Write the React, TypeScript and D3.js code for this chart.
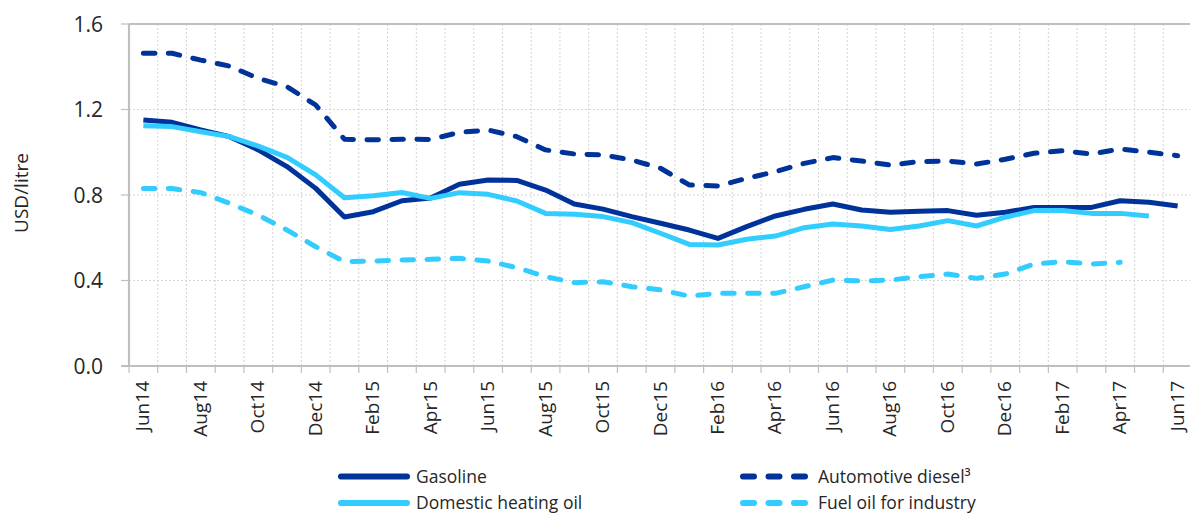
import React from 'react';
import * as d3 from 'd3';

const months = [
  'Jun14', 'Jul14', 'Aug14', 'Sep14', 'Oct14', 'Nov14', 'Dec14',
  'Jan15', 'Feb15', 'Mar15', 'Apr15', 'May15', 'Jun15', 'Jul15', 'Aug15', 'Sep15', 'Oct15', 'Nov15', 'Dec15',
  'Jan16', 'Feb16', 'Mar16', 'Apr16', 'May16', 'Jun16', 'Jul16', 'Aug16', 'Sep16', 'Oct16', 'Nov16', 'Dec16',
  'Jan17', 'Feb17', 'Mar17', 'Apr17', 'May17', 'Jun17',
];

// only every second month gets a label
const tickLabels = [
  'Jun14', 'Aug14', 'Oct14', 'Dec14', 'Feb15', 'Apr15', 'Jun15', 'Aug15', 'Oct15', 'Dec15',
  'Feb16', 'Apr16', 'Jun16', 'Aug16', 'Oct16', 'Dec16', 'Feb17', 'Apr17', 'Jun17',
];

const yTicks = [0, 0.4, 0.8, 1.2, 1.6];

const gasoline = [
  1.151, 1.14, 1.104, 1.073, 1.011, 0.933, 0.831,
  0.697, 0.722, 0.773, 0.786, 0.85, 0.87, 0.868, 0.823, 0.758, 0.734, 0.699, 0.668,
  0.636, 0.597, 0.652, 0.702, 0.733, 0.758, 0.73, 0.719, 0.724, 0.727, 0.705, 0.719,
  0.742, 0.742, 0.742, 0.773, 0.766, 0.749,
];

const diesel = [
  1.463, 1.463, 1.431, 1.403, 1.345, 1.307, 1.221,
  1.061, 1.058, 1.061, 1.06, 1.093, 1.104, 1.073, 1.011, 0.992, 0.987, 0.964, 0.925,
  0.847, 0.842, 0.878, 0.909, 0.948, 0.975, 0.959, 0.94, 0.956, 0.959, 0.945, 0.967,
  0.995, 1.007, 0.992, 1.015, 1.0, 0.984,
];

const heatingOil = [
  1.124, 1.12, 1.096, 1.073, 1.029, 0.976, 0.894,
  0.787, 0.797, 0.812, 0.784, 0.811, 0.803, 0.772, 0.714, 0.71, 0.699, 0.671, 0.621,
  0.569, 0.566, 0.593, 0.608, 0.647, 0.664, 0.655, 0.639, 0.655, 0.68, 0.655, 0.696,
  0.727, 0.727, 0.714, 0.714, 0.702,
];

const fuelOil = [
  0.83, 0.83, 0.811, 0.761, 0.706, 0.636, 0.558,
  0.488, 0.491, 0.496, 0.499, 0.504, 0.491, 0.46, 0.418, 0.39, 0.394, 0.371, 0.356,
  0.327, 0.34, 0.34, 0.34, 0.371, 0.402, 0.398, 0.402, 0.418, 0.43, 0.41, 0.43,
  0.477, 0.488, 0.477, 0.485,
];

const DARK = '#003399';
const LIGHT = '#33ccff';
const DASH = '11.5 13.5';

const series = [
  { name: 'Gasoline', values: gasoline, color: DARK, dash: null as string | null },
  { name: 'Automotive diesel³', values: diesel, color: DARK, dash: DASH },
  { name: 'Domestic heating oil', values: heatingOil, color: LIGHT, dash: null },
  { name: 'Fuel oil for industry', values: fuelOil, color: LIGHT, dash: DASH },
];

const W = 1190;
const H = 516;
const left = 129;
const right = 1192;
const top = 24;
const bottom = 366;
const font = '"Open Sans", "DejaVu Sans", sans-serif';
const textColor = '#262626';
const axisColor = '#bfbfbf';

const App: React.FC = () => {
  const x = d3.scaleBand<string>().domain(months).range([left, right]).padding(0);
  const y = d3.scaleLinear().domain([0, 1.6]).range([bottom, top]);
  const bw = x.bandwidth();

  const line = d3
    .line<number>()
    .x((_, i) => x(months[i])! + bw / 2)
    .y((d) => y(d));

  // gridline positions sit on the band edges
  const edges = months.map((m) => x(m)!).concat([right]);

  const legendItems = [
    { s: series[0], lx: 341, ly: 476.5 },
    { s: series[2], lx: 341, ly: 503 },
    { s: series[1], lx: 743, ly: 476.5 },
    { s: series[3], lx: 743, ly: 503 },
  ];

  return (
    <svg
      width={W}
      height={H}
      style={{ position: 'absolute', left: 0, top: 0, background: '#fff' }}
      fontFamily={font}
    >
      {/* vertical gridlines */}
      {edges.slice(1).map((ex, i) => (
        <line key={'gv' + i} x1={ex} x2={ex} y1={top} y2={bottom}
          stroke="#d4d4d4" strokeWidth={1} strokeDasharray="2 2" />
      ))}
      {/* horizontal gridlines */}
      {yTicks.slice(1, -1).map((t) => (
        <line key={'gh' + t} x1={left} x2={W} y1={y(t)} y2={y(t)}
          stroke="#d4d4d4" strokeWidth={1} strokeDasharray="2 2" />
      ))}
      {/* top border */}
      <line x1={left} x2={W} y1={y(1.6)} y2={y(1.6)} stroke={axisColor} strokeWidth={2.2} />

      {/* axes */}
      <line x1={left} x2={left} y1={top} y2={bottom + 1} stroke={axisColor} strokeWidth={2.2} />
      <line x1={121} x2={W} y1={bottom} y2={bottom} stroke={axisColor} strokeWidth={2.2} />
      {yTicks.map((t) => (
        <g key={'yt' + t}>
          <line x1={121} x2={left} y1={y(t)} y2={y(t)} stroke={axisColor} strokeWidth={1.2} />
          <text x={103} y={y(t)} dy="0.36em" textAnchor="end" fontSize={21} fill={textColor}>
            {t.toFixed(1)}
          </text>
        </g>
      ))}
      {edges.map((ex, i) => (
        <line key={'xt' + i} x1={ex} x2={ex} y1={bottom} y2={bottom + 7} stroke={axisColor} strokeWidth={1.2} />
      ))}
      {tickLabels.map((m) => {
        const cx = x(m)! + bw / 2;
        return (
          <text key={'xl' + m} transform={`translate(${cx + 6},${bottom + 15}) rotate(-90)`}
            textAnchor="end" fontSize={19} fill={textColor}>
            {m}
          </text>
        );
      })}
      <text transform={`translate(28,${(top + bottom) / 2 - 2}) rotate(-90)`} textAnchor="middle"
        fontSize={19} fill={textColor}>
        USD/litre
      </text>

      {/* series */}
      {series.map((s) => (
        <path key={s.name} d={line(s.values) || ''} fill="none" stroke={s.color} strokeWidth={5}
          strokeLinejoin="round" strokeLinecap={s.dash ? 'round' : 'butt'}
          strokeDasharray={s.dash || undefined} />
      ))}

      {/* legend */}
      {legendItems.map(({ s, lx, ly }) => (
        <g key={'lg' + s.name}>
          <line x1={lx} x2={lx + 66} y1={ly} y2={ly} stroke={s.color} strokeWidth={6}
            strokeLinecap="round" strokeDasharray={s.dash ? '11 14.5' : undefined} />
          <text x={lx + 75} y={ly} dy="0.35em" fontSize={17.5} fill={textColor}>
            {s.name}
          </text>
        </g>
      ))}
    </svg>
  );
};

export default App;
